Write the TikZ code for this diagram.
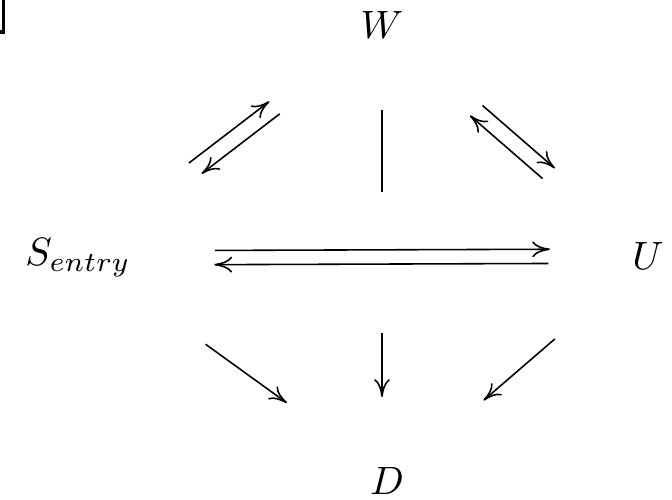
\documentclass[tikz,border=0pt]{standalone}
\usetikzlibrary{calc,arrows.meta}

\begin{document}
\begin{tikzpicture}[
  x=0.253pt, y=-0.253pt,
  obj/.style={inner sep=0pt},
  arr/.style={-{To[length=4.5pt,width=4pt]}},
]
\useasboundingbox (0,0) rectangle (672,499);
% corner mark, top left
\draw[line width=0.85pt] (0,32) -- (3.5,32) -- (3.5,0);
\node[obj] (W) at (382,25) {$W$};
\node[obj] (S) at (78,258) {$S_{entry}$};
\node[obj] (U) at (648,256) {$U$};
\node[obj] (D) at (387,481) {$D$};
\coordinate (mid) at (W |- S);
% S and W
\draw[arr] ($(S)!0.381!(W)!2pt!90:(W)$) -- ($(S)!0.645!(W)!2pt!90:(W)$);
\draw[arr] ($(W)!0.353!(S)!2.1pt!90:(S)$) -- ($(W)!0.610!(S)!2.1pt!90:(S)$);
% W and U
\draw[arr] ($(W)!0.365!(U)!1.3pt!90:(U)$) -- ($(W)!0.637!(U)!1.3pt!90:(U)$);
\draw[arr] ($(U)!0.370!(W)!2.7pt!90:(W)$) -- ($(U)!0.643!(W)!2.7pt!90:(W)$);
% S and U
\draw[arr] ($(S)!0.240!(U)!1.8pt!90:(U)$) -- ($(S)!0.828!(U)!1.8pt!90:(U)$);
\draw[arr] ($(U)!0.175!(S)!1.8pt!90:(S)$) -- ($(U)!0.761!(S)!1.8pt!90:(S)$);
% into D
\draw[arr] ($(S)!0.404!(D)!1.2pt!90:(D)$) -- ($(S)!0.667!(D)!1.2pt!90:(D)$);
\draw[arr] ($(U)!0.362!(D)!0.5pt!90:(D)$) -- ($(U)!0.635!(D)!0.5pt!90:(D)$);
\draw ($(W)!0.365!(mid)$) -- ($(W)!0.717!(mid)$);
\draw[arr] ($(mid)!0.336!(mid |- D)$) -- ($(mid)!0.623!(mid |- D)$);
\end{tikzpicture}
\end{document}
